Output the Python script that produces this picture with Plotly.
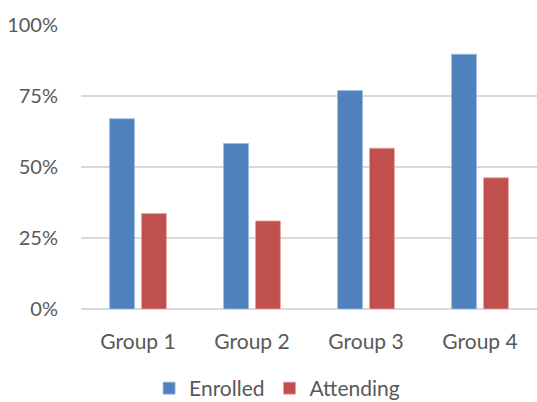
import plotly.graph_objects as go

categories = ["Group 1", "Group 2", "Group 3", "Group 4"]
enrolled = [0.67, 0.583, 0.769, 0.897]
attending = [0.336, 0.31, 0.566, 0.462]
y_ticks = [0, 0.25, 0.5, 0.75, 1.0]
y_tick_labels = ["0%", "25%", "50%", "75%", "100%"]

FONT = "Lato"
TEXT = "#595959"

fig = go.Figure()
fig.add_bar(name="Enrolled", x=categories, y=enrolled,
            marker=dict(color="#4F81BD", line=dict(color="#9DB9DE", width=0.8)))
fig.add_bar(name="Attending", x=categories, y=attending,
            marker=dict(color="#C0504D", line=dict(color="#E3A3A1", width=0.8)))

fig.update_layout(
    width=537, height=402,
    margin=dict(l=81, r=0, t=25, b=93, autoexpand=False),
    paper_bgcolor="white", plot_bgcolor="white",
    barmode="group", bargap=0.44, bargroupgap=0.22,
    font=dict(family=FONT, size=20, color=TEXT),
    showlegend=True,
    legend=dict(orientation="h", x=0.43, xanchor="center", y=-0.28, yanchor="middle",
                font=dict(family=FONT, size=21, color=TEXT), itemwidth=30,
                traceorder="normal"),
)
fig.update_xaxes(showgrid=False, showline=False, ticks="", ticklabelstandoff=18,
                 tickfont=dict(family=FONT, size=21, color=TEXT))
fig.update_yaxes(range=[0, 1.0], tickvals=y_ticks, ticktext=y_tick_labels,
                 showgrid=True, gridcolor="#D9D9D9", gridwidth=1.5,
                 zeroline=True, zerolinecolor="#D9D9D9", zerolinewidth=1.5,
                 showline=False, ticks="", ticklabelstandoff=22,
                 tickfont=dict(family=FONT, size=20, color=TEXT))

fig.write_html("out.html")
